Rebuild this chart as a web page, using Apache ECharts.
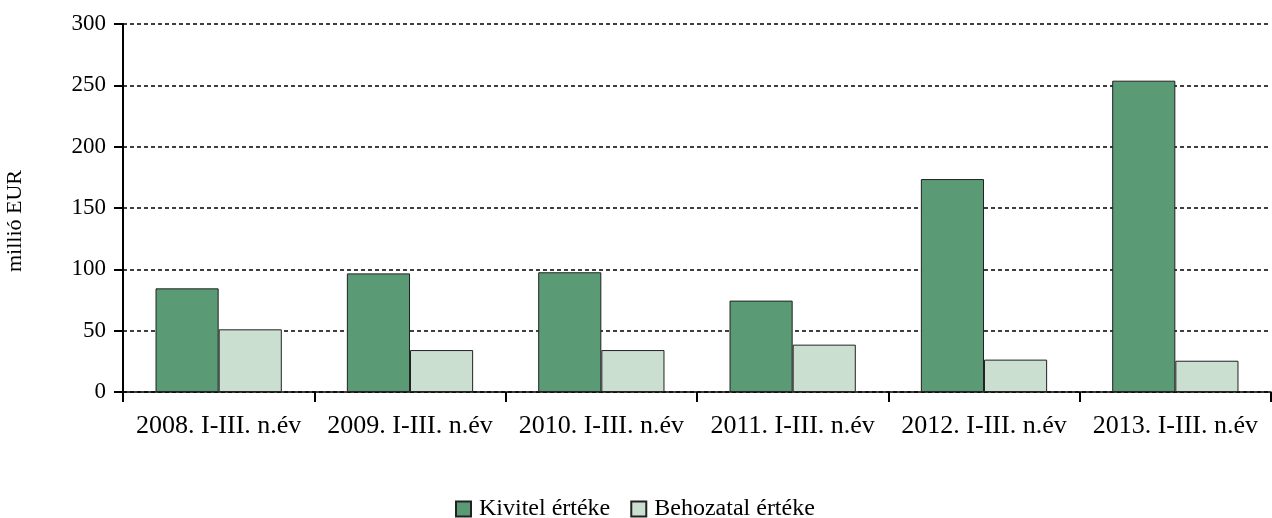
<!DOCTYPE html>
<html>
<head>
<meta charset="utf-8">
<script src="https://cdn.jsdelivr.net/npm/echarts@6/dist/echarts.min.js"></script>
<style>
  html, body { margin: 0; padding: 0; background: #fff; }
  #chart { width: 1272px; height: 518px; }
</style>
</head>
<body>
<div id="chart"></div>
<script>
// chart data
const categories = [
  "2008. I-III. n.év",
  "2009. I-III. n.év",
  "2010. I-III. n.év",
  "2011. I-III. n.év",
  "2012. I-III. n.év",
  "2013. I-III. n.év",
];
const kivitel = [84.5, 96.7, 97.6, 74.5, 173.6, 253.8];
const behozatal = [51.1, 34.2, 34.2, 38.6, 26.4, 25.5];
const seriesNames = ["Kivitel értéke", "Behozatal értéke"];

const font = "'Liberation Serif', 'Times New Roman', serif";

const chart = echarts.init(document.getElementById("chart"));

chart.setOption({
  animation: false,
  textStyle: { fontFamily: font, color: "#000" },
  grid: { left: 123, right: 1, top: 24, bottom: 126, outerBoundsMode: "none", containLabel: false },
  legend: {
    top: 497,
    left: 455,
    padding: 0,
    itemWidth: 15,
    itemHeight: 15,
    itemGap: 20,
    icon: "rect",
    textStyle: { fontFamily: font, fontSize: 24, color: "#000", padding: [0, 0, 0, 3] },
    data: seriesNames,
  },
  xAxis: {
    type: "category",
    data: categories,
    axisLine: { lineStyle: { color: "#000", width: 1.5 } },
    axisTick: { show: true, interval: 0, length: 10, lineStyle: { color: "#000", width: 2 } },
    axisLabel: { interval: 0, fontFamily: font, fontSize: 26, color: "#000", margin: 21 },
  },
  yAxis: {
    type: "value",
    min: 0,
    max: 300,
    interval: 50,
    name: "millió EUR",
    nameLocation: "middle",
    nameGap: 97,
    nameTextStyle: { fontFamily: font, fontSize: 22, color: "#000", padding: [0, 26, 0, 0] },
    axisLine: { show: true, lineStyle: { color: "#000", width: 2 } },
    axisTick: { show: true, length: 9, lineStyle: { color: "#000", width: 2 } },
    axisLabel: { fontFamily: font, fontSize: 23, color: "#000", margin: 17 },
    splitLine: { lineStyle: { color: "#000", width: 1.5, type: [4, 3] } },
  },
  series: [
    {
      name: seriesNames[0],
      type: "bar",
      data: kivitel,
      barGap: "0%",
      barCategoryGap: "34%",
      itemStyle: { color: "#5a9a74", borderColor: "#222", borderWidth: 1 },
    },
    {
      name: seriesNames[1],
      type: "bar",
      data: behozatal,
      itemStyle: { color: "#cadfd0", borderColor: "#222", borderWidth: 1 },
    },
  ],
});
</script>
</body>
</html>
